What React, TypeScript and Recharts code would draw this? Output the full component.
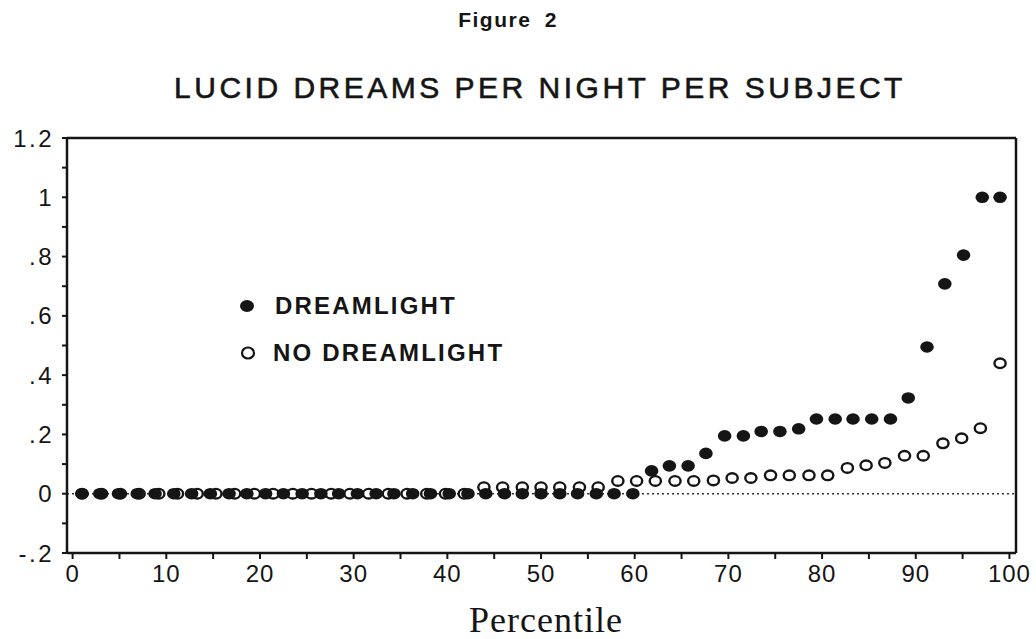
import { ScatterChart, Scatter, XAxis, YAxis, ReferenceLine, Legend } from "recharts";

// percentile rank of each subject and lucid dreams per night
const dreamlightX = [
  1.0, 2.9, 4.9, 6.9, 8.8, 10.8, 12.7, 14.7, 16.7, 18.6, 20.6, 22.5, 24.5, 26.5, 28.4,
  30.4, 32.4, 34.3, 36.3, 38.2, 40.2, 42.2, 44.1, 46.1, 48.0, 50.0, 52.0, 53.9, 55.9,
  57.8, 59.8, 61.8, 63.7, 65.7, 67.6, 69.6, 71.6, 73.5, 75.5, 77.5, 79.4, 81.4, 83.3,
  85.3, 87.3, 89.2, 91.2, 93.1, 95.1, 97.1, 99.0,
];
const dreamlightY = [
  0, 0, 0, 0, 0, 0, 0, 0, 0, 0, 0, 0, 0, 0, 0, 0, 0, 0, 0, 0, 0, 0, 0, 0, 0, 0, 0, 0, 0,
  0, 0, 0.077, 0.094, 0.094, 0.136, 0.195, 0.195, 0.21, 0.21, 0.219, 0.252, 0.252, 0.252,
  0.252, 0.252, 0.323, 0.495, 0.708, 0.805, 1.0, 1.0,
];
const noDreamlightX = [
  1.0, 3.1, 5.1, 7.1, 9.2, 11.2, 13.3, 15.3, 17.3, 19.4, 21.4, 23.5, 25.5, 27.6, 29.6,
  31.6, 33.7, 35.7, 37.8, 39.8, 41.8, 43.9, 45.9, 48.0, 50.0, 52.0, 54.1, 56.1, 58.2,
  60.2, 62.2, 64.3, 66.3, 68.4, 70.4, 72.4, 74.5, 76.5, 78.6, 80.6, 82.7, 84.7, 86.7,
  88.8, 90.8, 92.9, 94.9, 96.9, 99.0,
];
const noDreamlightY = [
  0, 0, 0, 0, 0, 0, 0, 0, 0, 0, 0, 0, 0, 0, 0, 0, 0, 0, 0, 0, 0, 0.022, 0.022, 0.022,
  0.022, 0.022, 0.022, 0.022, 0.043, 0.043, 0.043, 0.043, 0.043, 0.045, 0.053, 0.053,
  0.062, 0.062, 0.062, 0.062, 0.087, 0.096, 0.104, 0.128, 0.128, 0.17, 0.187, 0.221, 0.44,
];

const xTicks = [0, 5, 10, 15, 20, 25, 30, 35, 40, 45, 50, 55, 60, 65, 70, 75, 80, 85, 90, 95, 100];
const yTicks = [-0.2, -0.1, 0, 0.1, 0.2, 0.3, 0.4, 0.5, 0.6, 0.7, 0.8, 0.9, 1.0, 1.1, 1.2];

const dreamlight = dreamlightX.map((x, i) => ({ x, y: dreamlightY[i] }));
const noDreamlight = noDreamlightX.map((x, i) => ({ x, y: noDreamlightY[i] }));

const INK = "#151515";
const xDomain = [-0.6, 100.7];
const yDomain = [-0.2, 1.2];

function xLabel(v: number) {
  return v % 10 === 0 ? String(v) : "";
}

function yLabel(v: number) {
  const t = Math.round(v * 10);
  if (t % 2 !== 0) return "";
  if (t === 0) return "0";
  if (t === 10) return "1";
  return (t / 10).toFixed(1).replace(/^(-?)0\./, "$1.");
}

const tickFont = { fontFamily: "Liberation Sans, Arial, sans-serif", fontSize: 24, fill: INK, letterSpacing: 1 };
const yTickFont = { ...tickFont, letterSpacing: 2.5 };

const FilledDot = (p: any) => <ellipse cx={p.cx} cy={p.cy} rx={6.8} ry={5.8} fill={INK} />;
const OpenDot = (p: any) => (
  <ellipse cx={p.cx} cy={p.cy} rx={5.6} ry={4.8} fill="#fff" stroke={INK} strokeWidth={2.4} />
);

function LegendBox() {
  const text = {
    fontFamily: "Liberation Sans, Arial, sans-serif",
    fontWeight: 700,
    fontSize: 24,
    letterSpacing: 2.2,
    color: INK,
  };
  return (
    <div style={{ position: "relative", width: 320, height: 90 }}>
      <svg width={30} height={90} style={{ position: "absolute", left: 0, top: 0 }}>
        <ellipse cx={17} cy={16} rx={7} ry={6} fill={INK} />
        <ellipse cx={18} cy={63} rx={6} ry={5.5} fill="#fff" stroke={INK} strokeWidth={2.2} />
      </svg>
      <div style={{ ...text, position: "absolute", left: 45, top: 2 }}>DREAMLIGHT</div>
      <div style={{ ...text, position: "absolute", left: 43, top: 49 }}>NO DREAMLIGHT</div>
    </div>
  );
}

export default function App() {
  return (
    <div style={{ position: "absolute", left: 0, top: 0, width: 1036, height: 639, background: "#fff" }}>
      <div
        style={{
          position: "absolute",
          top: 8,
          width: 1036,
          left: -10,
          textAlign: "center",
          fontFamily: "Liberation Sans, Arial, sans-serif",
          fontWeight: 700,
          fontSize: 21,
          letterSpacing: 1.5,
          wordSpacing: 6,
          color: INK,
        }}
      >
        Figure 2
      </div>
      <div
        style={{
          position: "absolute",
          top: 71,
          width: 1036,
          left: 22,
          textAlign: "center",
          fontFamily: "Liberation Sans, Arial, sans-serif",
          fontSize: 30,
          letterSpacing: 3.5,
          WebkitTextStroke: "0.6px #151515",
          color: INK,
        }}
      >
        LUCID DREAMS PER NIGHT PER SUBJECT
      </div>
      <ScatterChart width={1036} height={639} margin={{ top: 128, right: 0, bottom: 46, left: 7 }}>
        <XAxis
          dataKey="x"
          type="number"
          domain={xDomain}
          ticks={xTicks}
          interval={0}
          tickFormatter={xLabel}
          tick={tickFont}
          tickSize={6}
          tickMargin={6}
          height={40}
          axisLine={{ stroke: INK, strokeWidth: 2.5 }}
          tickLine={{ stroke: INK, strokeWidth: 2 }}
          allowDataOverflow
        />
        <XAxis
          xAxisId="top"
          orientation="top"
          type="number"
          domain={xDomain}
          ticks={xTicks}
          interval={0}
          tick={false}
          tickSize={4}
          height={10}
          axisLine={{ stroke: INK, strokeWidth: 2.5 }}
          tickLine={{ stroke: INK, strokeWidth: 2 }}
          allowDataOverflow
        />
        <YAxis
          dataKey="y"
          type="number"
          domain={yDomain}
          ticks={yTicks}
          interval={0}
          tickFormatter={yLabel}
          tick={yTickFont}
          tickSize={5}
          tickMargin={8}
          width={60}
          axisLine={{ stroke: INK, strokeWidth: 2.5 }}
          tickLine={{ stroke: INK, strokeWidth: 2 }}
          allowDataOverflow
        />
        <YAxis
          yAxisId="right"
          orientation="right"
          type="number"
          domain={yDomain}
          ticks={yTicks}
          interval={0}
          tick={false}
          tickSize={4}
          width={20}
          axisLine={{ stroke: INK, strokeWidth: 2.5 }}
          tickLine={{ stroke: INK, strokeWidth: 2 }}
          allowDataOverflow
        />
        <ReferenceLine y={0} stroke="#333" strokeWidth={1.6} strokeDasharray="2 3" />
        <Scatter name="NO DREAMLIGHT" data={noDreamlight} shape={OpenDot} isAnimationActive={false} />
        <Scatter name="DREAMLIGHT" data={dreamlight} shape={FilledDot} isAnimationActive={false} />
        <Legend
          content={() => <LegendBox />}
          layout="horizontal"
          verticalAlign="middle"
          align="center"
          wrapperStyle={{ left: 230, top: 290, width: 320 }}
        />
      </ScatterChart>
      <div
        style={{
          position: "absolute",
          top: 599,
          width: 1036,
          left: 28,
          textAlign: "center",
          fontFamily: "Liberation Serif, Times New Roman, serif",
          fontSize: 36,
          letterSpacing: 1,
          color: INK,
        }}
      >
        Percentile
      </div>
    </div>
  );
}
